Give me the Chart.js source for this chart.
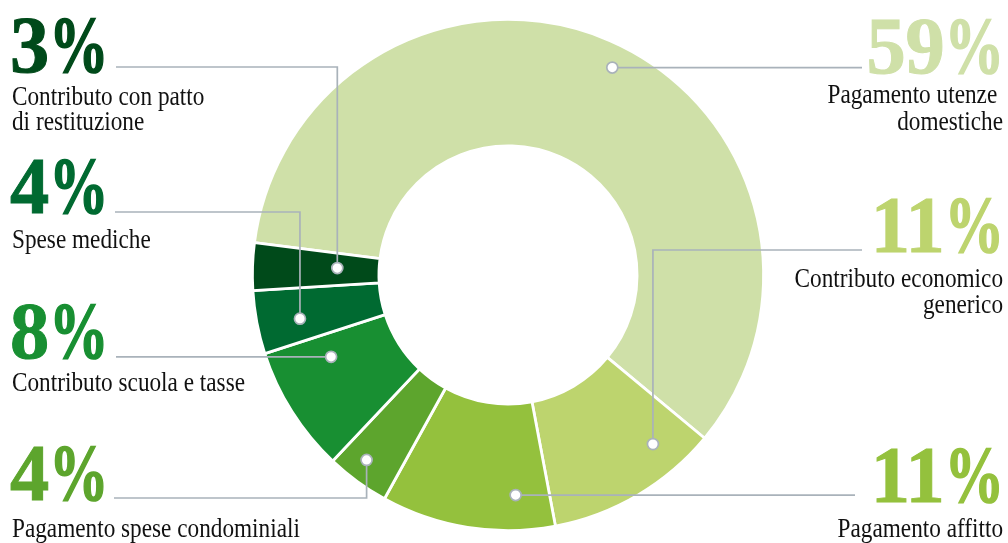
<!DOCTYPE html>
<html>
<head>
<meta charset="utf-8">
<script src="https://cdn.jsdelivr.net/npm/chart.js@4"></script>
<style>
  html, body { margin: 0; padding: 0; background: #fff; }
  #wrap { width: 1008px; height: 543px; }
</style>
</head>
<body>
<div id="wrap"><canvas id="chart" width="1008" height="543"></canvas></div>
<script>
// data
const categories = [
  'Pagamento utenze domestiche',
  'Contributo economico generico',
  'Pagamento affitto',
  'Pagamento spese condominiali',
  'Contributo scuola e tasse',
  'Spese mediche',
  'Contributo con patto di restituzione'
];
const percentages = [59, 11, 11, 4, 8, 4, 3];
const captionLines = [
  ['Pagamento utenze ', 'domestiche'],
  ['Contributo economico', 'generico'],
  ['Pagamento affitto'],
  ['Pagamento spese condominiali'],
  ['Contributo scuola e tasse'],
  ['Spese mediche'],
  ['Contributo con patto', 'di restituzione']
];
const sliceColors = ['#cfe0a8', '#bdd46e', '#94c13d', '#5da52d', '#188f32', '#006a31', '#004a1a'];

// label layout (same order as the data)
const LAYOUT = [
  { align: 'right', x: 1004, pctY: 73,  capY: [103, 130], lineY: null, endX: 862, af: 0.515, rf: 0.815 },
  { align: 'right', x: 1004, pctY: 252, capY: [287, 313], lineY: 250,  endX: 862, af: 0.245, rf: 0.74 },
  { align: 'right', x: 1004, pctY: 502, capY: [537],      lineY: null, endX: 855, af: 0.22,  rf: 0.72 },
  { align: 'left',  x: 10,   pctY: 500, capY: [537],      lineY: 498,  endX: 114, af: 0.59,  rf: 0.82 },
  { align: 'left',  x: 10,   pctY: 358, capY: [391],      lineY: null, endX: 116, af: 0.76,  rf: 0.52 },
  { align: 'left',  x: 10,   pctY: 213, capY: [248],      lineY: 212,  endX: 115, af: 0.42,  rf: 0.66 },
  { align: 'left',  x: 10,   pctY: 72,  capY: [105, 130], lineY: 67,   endX: 116, af: 0.54,  rf: 0.33 }
];

const LINE_COLOR = '#a9b2ba';
const PCT_FONT = 'bold 80px "Liberation Serif", "Times New Roman", serif';
const CAP_FONT = '28px "Liberation Serif", "Times New Roman", serif';
const NUM_SX = 0.98;
const SIGN_SX = 0.74;

function drawScaled(ctx, text, x, y, align, sx, heavy) {
  ctx.save();
  ctx.translate(x, y);
  ctx.scale(sx, 1);
  ctx.textAlign = align;
  ctx.textBaseline = 'alphabetic';
  ctx.fillText(text, 0, 0);
  if (heavy) {
    ctx.strokeStyle = ctx.fillStyle;
    ctx.lineWidth = heavy;
    ctx.strokeText(text, 0, 0);
  }
  ctx.restore();
}

// number and % sign drawn with different widths
function drawPercent(ctx, value, x, y, align) {
  const num = String(value);
  const numW = ctx.measureText(num).width * NUM_SX;
  const signW = ctx.measureText('%').width * SIGN_SX;
  const left = align === 'left' ? x : x - numW - signW;
  drawScaled(ctx, num, left, y, 'left', NUM_SX, 1);
  drawScaled(ctx, '%', left + numW, y, 'left', SIGN_SX, 1.6);
}

const calloutPlugin = {
  id: 'callouts',
  afterDatasetsDraw(chart) {
    const ctx = chart.ctx;
    const meta = chart.getDatasetMeta(0);

    meta.data.forEach((arc, i) => {
      const L = LAYOUT[i];
      const p = arc.getProps(['x', 'y', 'startAngle', 'endAngle', 'innerRadius', 'outerRadius'], true);
      const a = p.startAngle + (p.endAngle - p.startAngle) * L.af;
      const r = p.innerRadius + (p.outerRadius - p.innerRadius) * L.rf;
      const dx = p.x + Math.cos(a) * r;
      const dy = p.y + Math.sin(a) * r;
      const ly = L.lineY === null ? dy : L.lineY;

      // leader line
      ctx.save();
      ctx.strokeStyle = LINE_COLOR;
      ctx.lineWidth = 1.7;
      ctx.beginPath();
      ctx.moveTo(dx, dy);
      ctx.lineTo(dx, ly);
      ctx.lineTo(L.endX, ly);
      ctx.stroke();

      // dot
      ctx.beginPath();
      ctx.arc(dx, dy, 5.5, 0, Math.PI * 2);
      ctx.fillStyle = '#ffffff';
      ctx.fill();
      ctx.lineWidth = 1.7;
      ctx.stroke();
      ctx.restore();

      // percentage
      ctx.save();
      ctx.fillStyle = sliceColors[i];
      ctx.font = PCT_FONT;
      drawPercent(ctx, percentages[i], L.x, L.pctY, L.align);

      // caption
      ctx.fillStyle = '#111111';
      ctx.font = CAP_FONT;
      captionLines[i].forEach((line, k) => {
        drawScaled(ctx, line, L.x + (L.align === 'left' ? 2 : -1), L.capY[k], L.align, 0.83);
      });
      ctx.restore();
    });
  }
};

new Chart(document.getElementById('chart'), {
  type: 'doughnut',
  data: {
    labels: categories,
    datasets: [{
      data: percentages,
      backgroundColor: sliceColors,
      borderColor: '#ffffff',
      borderWidth: 2.8,
      hoverOffset: 0
    }]
  },
  options: {
    responsive: false,
    animation: false,
    rotation: -82.7,
    cutout: '50.5%',
    layout: {
      padding: { left: 251, right: 243, top: 18, bottom: 11 }
    },
    plugins: {
      legend: { display: false },
      tooltip: { enabled: false }
    },
    events: []
  },
  plugins: [calloutPlugin]
});
</script>
</body>
</html>
